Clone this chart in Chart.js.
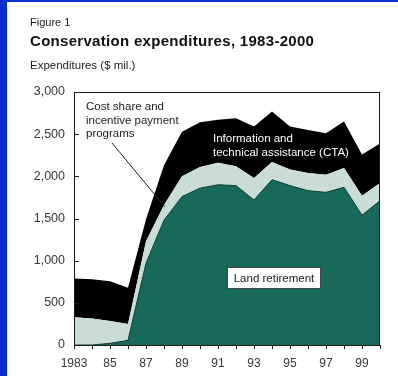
<!DOCTYPE html>
<html>
<head>
<meta charset="utf-8">
<script src="https://cdn.jsdelivr.net/npm/chart.js@4/dist/chart.umd.min.js"></script>
<style>
  html, body { margin: 0; padding: 0; background: #fff; }
  body { width: 398px; height: 376px; position: relative; overflow: hidden;
         font-family: "Liberation Sans", Arial, sans-serif; }
  .edge-top { position: absolute; left: 0; top: 0; width: 398px; height: 2px; background: #0630d2; }
  .edge-left { position: absolute; left: 0; top: 0; width: 7px; height: 376px; background: #0630d2; }
  .txt { position: absolute; left: 30px; line-height: 1; white-space: nowrap; color: #111; }
  #fig { top: 17px; font-size: 11px; color: #222; }
  #title { top: 33px; font-size: 15px; font-weight: bold; letter-spacing: 0.3px; }
  #unit { top: 60px; font-size: 11.5px; color: #222; }
  #wrap { position: absolute; left: 0; top: 0; width: 398px; height: 376px; }
</style>
</head>
<body>
<div id="wrap"><canvas id="chart" width="398" height="376"></canvas></div>
<div class="edge-top"></div>
<div class="edge-left"></div>
<div class="txt" id="fig">Figure 1</div>
<div class="txt" id="title">Conservation expenditures, 1983-2000</div>
<div class="txt" id="unit">Expenditures ($ mil.)</div>
<script>
// values in $ million
const years = [1983, 1984, 1985, 1986, 1987, 1988, 1989, 1990, 1991,
               1992, 1993, 1994, 1995, 1996, 1997, 1998, 1999, 2000];
const landRetirement = [0, 0, 20, 55, 970, 1480, 1760, 1860, 1900,
                        1890, 1720, 1960, 1890, 1830, 1810, 1870, 1540, 1710];
const technicalAssistance = [330, 315, 265, 195, 260, 180, 240, 250, 260,
                             230, 260, 210, 190, 210, 210, 230, 230, 210];
const costShare = [460, 465, 470, 430, 260, 470, 530, 530, 510,
                   570, 610, 600, 510, 510, 490, 550, 490, 470];
const yTicks = [0, 500, 1000, 1500, 2000, 2500, 3000];

const FONT = "'Liberation Sans', Arial, sans-serif";
const GREEN = "#17695b";
const LIGHT = "#c9ddd6";
const INK = "#1a1a1a";

function pts(vals) {
  return years.map((yr, i) => ({ x: yr, y: vals[i] }));
}

// frame, inward y ticks and the text labels inside the plot
const decorations = {
  id: "decorations",
  afterDatasetsDraw(chart) {
    const { ctx, chartArea: a, scales } = chart;
    ctx.save();
    ctx.strokeStyle = INK;
    ctx.lineWidth = 1;
    ctx.strokeRect(a.left + 0.5, a.top + 0.5, a.right - a.left - 1, a.bottom - a.top);
    ctx.beginPath();
    yTicks.forEach(v => {
      const y = Math.round(scales.y.getPixelForValue(v)) + 0.5;
      ctx.moveTo(a.left, y);
      ctx.lineTo(a.left + 5, y);
    });
    ctx.stroke();

    ctx.font = "11.5px " + FONT;
    ctx.textBaseline = "middle";
    ctx.textAlign = "left";
    ctx.fillStyle = "#222";
    ctx.fillText("Cost share and", 86, 107);
    ctx.fillText("incentive payment", 86, 121);
    ctx.fillText("programs", 86, 134);
    ctx.beginPath();
    ctx.moveTo(112, 143);
    ctx.lineTo(165, 207);
    ctx.strokeStyle = "#222";
    ctx.stroke();

    ctx.fillStyle = "#fff";
    ctx.fillText("Information and", 213, 139);
    ctx.fillText("technical assistance (CTA)", 213, 153);

    ctx.fillStyle = "#fff";
    ctx.fillRect(227, 267, 94, 22);
    ctx.strokeStyle = "#444";
    ctx.strokeRect(227.5, 267.5, 93, 21);
    ctx.fillStyle = "#222";
    ctx.textAlign = "center";
    ctx.fillText("Land retirement", 274, 278.5);
    ctx.restore();
  }
};

new Chart(document.getElementById("chart").getContext("2d"), {
  type: "line",
  data: {
    datasets: [
      {
        label: "Land retirement",
        data: pts(landRetirement),
        backgroundColor: GREEN,
        borderColor: "#0f3b33",
        borderWidth: 1,
        fill: "origin",
      },
      {
        label: "Information and technical assistance (CTA)",
        data: pts(technicalAssistance),
        backgroundColor: LIGHT,
        borderColor: LIGHT,
        borderWidth: 0,
        fill: "-1",
      },
      {
        label: "Cost share and incentive payment programs",
        data: pts(costShare),
        backgroundColor: "#000",
        borderColor: "#000",
        borderWidth: 0,
        fill: "-1",
      },
    ],
  },
  options: {
    responsive: false,
    animation: false,
    events: [],
    elements: { point: { radius: 0 }, line: { tension: 0 } },
    layout: { padding: { left: 0, right: 18, top: 92, bottom: 0 } },
    plugins: { legend: { display: false }, tooltip: { enabled: false } },
    scales: {
      x: {
        type: "linear",
        min: 1983,
        max: 2000,
        afterFit: s => { s.height = 31; },
        border: { display: false },
        grid: { drawOnChartArea: false, drawTicks: true, tickLength: 4, color: INK },
        ticks: {
          stepSize: 1,
          autoSkip: false,
          maxRotation: 0,
          padding: 7,
          color: "#383838",
          font: { family: FONT, size: 12 },
          callback: v => (v === 1983 ? "1983" : (v % 2 === 1 && v < 2000 ? String(v).slice(2) : "")),
        },
      },
      y: {
        stacked: true,
        min: 0,
        max: 3000,
        afterFit: s => { s.width = 74; },
        border: { display: false },
        grid: { display: false, drawTicks: false },
        afterBuildTicks: s => { s.ticks = yTicks.map(v => ({ value: v })); },
        ticks: {
          padding: 9,
          color: "#383838",
          font: { family: FONT, size: 12.5 },
          callback: v => Number(v).toLocaleString("en-US"),
        },
      },
    },
  },
  plugins: [decorations],
});
</script>
</body>
</html>
